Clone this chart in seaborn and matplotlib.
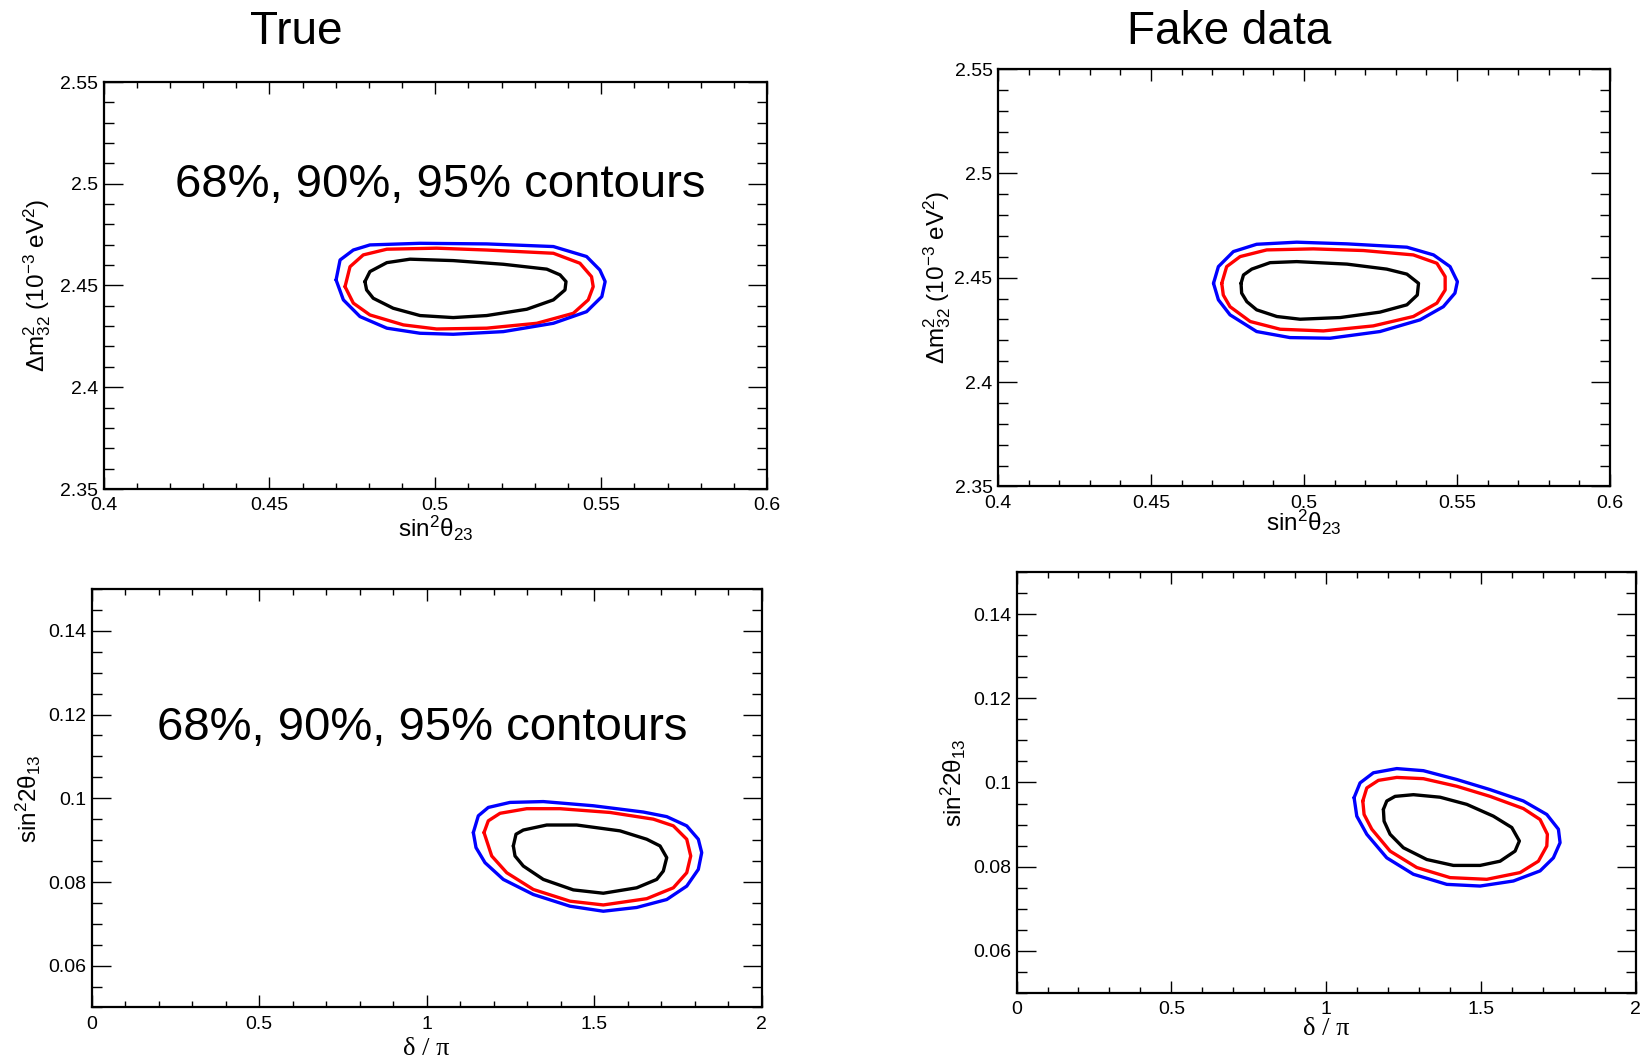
import matplotlib
matplotlib.use("Agg")
import matplotlib.pyplot as plt
from matplotlib.ticker import MultipleLocator
import pandas as pd
import seaborn as sns

# ---------------- contour vertices (68%, 90%, 95% C.L.) ----------------
# Top row, true oscillation parameters: sin^2(theta23) vs dm^2_32
tl_95_x = [0.4701, 0.4713, 0.4753, 0.4803, 0.4954, 0.5155, 0.5356, 0.5456, 0.5496, 0.5512,
           0.5502, 0.5456, 0.5356, 0.5205, 0.5054, 0.4954, 0.4854, 0.4773, 0.4723]
tl_95_y = [2.4527, 2.4625, 2.4674, 2.4699, 2.4707, 2.4704, 2.4691, 2.4642, 2.4576, 2.4519,
           2.4445, 2.4371, 2.4314, 2.4273, 2.4260, 2.4265, 2.4290, 2.4347, 2.4429]
tl_90_x = [0.4728, 0.4743, 0.4783, 0.4854, 0.5004, 0.5155, 0.5356, 0.5436, 0.5471, 0.5476,
           0.5461, 0.5416, 0.5306, 0.5155, 0.5004, 0.4904, 0.4803, 0.4753]
tl_90_y = [2.4494, 2.4592, 2.4650, 2.4678, 2.4683, 2.4674, 2.4658, 2.4609, 2.4543, 2.4494,
           2.4429, 2.4363, 2.4314, 2.4290, 2.4286, 2.4306, 2.4355, 2.4413]
tl_68_x = [0.4788, 0.4803, 0.4854, 0.4924, 0.5054, 0.5205, 0.5336, 0.5376, 0.5394, 0.5391,
           0.5356, 0.5276, 0.5155, 0.5054, 0.4954, 0.4873, 0.4813, 0.4793]
tl_68_y = [2.4519, 2.4568, 2.4612, 2.4629, 2.4622, 2.4604, 2.4580, 2.4552, 2.4519, 2.4478,
           2.4429, 2.4383, 2.4352, 2.4342, 2.4352, 2.4388, 2.4437, 2.4478]

# Top row, fake data fit
tr_95_x = [0.4704, 0.4720, 0.4769, 0.4845, 0.4976, 0.5140, 0.5336, 0.5423, 0.5477, 0.5501,
           0.5493, 0.5455, 0.5379, 0.5248, 0.5085, 0.4954, 0.4845, 0.4758, 0.4720]
tr_95_y = [2.4473, 2.4553, 2.4625, 2.4660, 2.4670, 2.4662, 2.4646, 2.4609, 2.4553, 2.4481,
           2.4426, 2.4361, 2.4298, 2.4242, 2.4210, 2.4213, 2.4242, 2.4322, 2.4394]
tr_90_x = [0.4731, 0.4747, 0.4791, 0.4878, 0.5030, 0.5194, 0.5357, 0.5434, 0.5461, 0.5461,
           0.5434, 0.5357, 0.5226, 0.5063, 0.4922, 0.4824, 0.4758, 0.4736]
tr_90_y = [2.4473, 2.4553, 2.4601, 2.4633, 2.4638, 2.4630, 2.4609, 2.4569, 2.4505, 2.4441,
           2.4378, 2.4314, 2.4269, 2.4245, 2.4253, 2.4290, 2.4361, 2.4417]
tr_68_x = [0.4794, 0.4802, 0.4829, 0.4889, 0.4976, 0.5140, 0.5270, 0.5336, 0.5374, 0.5370,
           0.5336, 0.5248, 0.5118, 0.4987, 0.4911, 0.4845, 0.4813, 0.4796]
tr_68_y = [2.4473, 2.4513, 2.4541, 2.4572, 2.4577, 2.4565, 2.4541, 2.4517, 2.4473, 2.4417,
           2.4370, 2.4335, 2.4309, 2.4301, 2.4314, 2.4346, 2.4385, 2.4426]

# Bottom row, true parameters: delta_CP / pi vs sin^2(2 theta13)
bl_95_x = [1.1397, 1.1546, 1.1844, 1.2492, 1.3486, 1.4979, 1.6471, 1.7170, 1.7767, 1.8113,
           1.8214, 1.8113, 1.7767, 1.7170, 1.6274, 1.5277, 1.4283, 1.3188, 1.2292, 1.1746, 1.1477]
bl_95_y = [0.0918, 0.0958, 0.0978, 0.0990, 0.0992, 0.0982, 0.0967, 0.0956, 0.0934, 0.0902,
           0.0870, 0.0830, 0.0790, 0.0758, 0.0739, 0.0730, 0.0742, 0.0770, 0.0806, 0.0846, 0.0882]
bl_90_x = [1.1716, 1.1844, 1.2194, 1.2991, 1.3985, 1.5477, 1.6770, 1.7367, 1.7767, 1.7886,
           1.7767, 1.7367, 1.6573, 1.5277, 1.4283, 1.3188, 1.2394, 1.1946]
bl_90_y = [0.0918, 0.0946, 0.0964, 0.0975, 0.0975, 0.0966, 0.0950, 0.0934, 0.0902, 0.0862,
           0.0822, 0.0786, 0.0760, 0.0745, 0.0754, 0.0782, 0.0822, 0.0862]
bl_68_x = [1.2591, 1.2671, 1.2889, 1.3588, 1.4483, 1.5776, 1.6573, 1.6970, 1.7170, 1.7068,
           1.6871, 1.6274, 1.5277, 1.4382, 1.3486, 1.2889, 1.2641]
bl_68_y = [0.0886, 0.0914, 0.0924, 0.0936, 0.0936, 0.0922, 0.0902, 0.0886, 0.0858, 0.0826,
           0.0806, 0.0786, 0.0773, 0.0781, 0.0806, 0.0838, 0.0862]

# Bottom row, fake data fit
br_95_x = [1.0905, 1.1098, 1.1528, 1.2284, 1.3144, 1.4223, 1.5299, 1.6375, 1.7131, 1.7506,
           1.7560, 1.7344, 1.6914, 1.6052, 1.4976, 1.3900, 1.2821, 1.1961, 1.1315, 1.0992]
br_95_y = [0.0964, 0.0999, 0.1023, 0.1033, 0.1028, 0.1007, 0.0983, 0.0956, 0.0924, 0.0889,
           0.0857, 0.0821, 0.0790, 0.0766, 0.0754, 0.0758, 0.0782, 0.0821, 0.0877, 0.0920]
br_90_x = [1.1186, 1.1315, 1.1690, 1.2284, 1.3144, 1.4223, 1.5299, 1.6375, 1.6914, 1.7150,
           1.7131, 1.6859, 1.6268, 1.5192, 1.4006, 1.2930, 1.2068, 1.1477, 1.1228]
br_90_y = [0.0956, 0.0987, 0.1005, 0.1012, 0.1009, 0.0991, 0.0967, 0.0938, 0.0912, 0.0877,
           0.0849, 0.0813, 0.0786, 0.0770, 0.0774, 0.0798, 0.0837, 0.0889, 0.0924]
br_68_x = [1.1851, 1.1961, 1.2229, 1.2821, 1.3683, 1.4546, 1.5405, 1.6000, 1.6245, 1.6106,
           1.5622, 1.4976, 1.4113, 1.3254, 1.2497, 1.2068, 1.1874]
br_68_y = [0.0936, 0.0956, 0.0967, 0.0971, 0.0965, 0.0948, 0.0920, 0.0893, 0.0861, 0.0837,
           0.0813, 0.0803, 0.0803, 0.0817, 0.0845, 0.0877, 0.0908]

# ---------------- axis ticks and labels ----------------
th23_ticks = [0.4, 0.45, 0.5, 0.55, 0.6]
th23_labels = ["0.4", "0.45", "0.5", "0.55", "0.6"]
dm32_ticks = [2.35, 2.4, 2.45, 2.5, 2.55]
dm32_labels = ["2.35", "2.4", "2.45", "2.5", "2.55"]
dcp_ticks = [0, 0.5, 1, 1.5, 2]
dcp_labels = ["0", "0.5", "1", "1.5", "2"]
th13_ticks = [0.06, 0.08, 0.1, 0.12, 0.14]
th13_labels = ["0.06", "0.08", "0.1", "0.12", "0.14"]

column_titles = ["True", "Fake data"]
cl_note = "68%, 90%, 95% contours"
levels = ["68%", "90%", "95%"]
level_colors = {"68%": "#000000", "90%": "#ff0000", "95%": "#0000ff"}

# ---------------- style ----------------
sns.set_style("white")
plt.rcParams["font.family"] = ["Liberation Sans", "DejaVu Sans"]
plt.rcParams["mathtext.fontset"] = "custom"
plt.rcParams["mathtext.rm"] = "Liberation Sans"
plt.rcParams["mathtext.it"] = "Liberation Sans:italic"
plt.rcParams["mathtext.bf"] = "Liberation Sans:bold"
plt.rcParams["axes.linewidth"] = 1.6
plt.rcParams["axes.edgecolor"] = "black"
plt.rcParams["text.color"] = "black"
plt.rcParams["axes.labelcolor"] = "black"
plt.rcParams["xtick.color"] = "black"
plt.rcParams["ytick.color"] = "black"
plt.rcParams["xtick.bottom"] = True
plt.rcParams["ytick.left"] = True

W, H = 1640, 1059
fig = plt.figure(figsize=(W / 100 + 1e-3, H / 100 + 1e-3), dpi=100)


def px_axes(left, top, right, bottom):
    return fig.add_axes([left / W, 1 - bottom / H, (right - left) / W, (bottom - top) / H])


def contour_frame(xs, ys):
    rows = []
    for lev, x, y in zip(levels, xs, ys):
        x = list(x) + [x[0]]
        y = list(y) + [y[0]]
        for i, (a, b) in enumerate(zip(x, y)):
            rows.append({"x": a, "y": b, "level": lev, "step": i})
    return pd.DataFrame(rows)


def draw_panel(ax, xs, ys, xlim, ylim, xt, xl, yt, yl, xmin, ymin):
    df = contour_frame(xs, ys)
    sns.lineplot(data=df, x="x", y="y", hue="level", palette=level_colors,
                 sort=False, estimator=None, linewidth=2.4, legend=False, ax=ax)
    ax.set_xlim(*xlim)
    ax.set_ylim(*ylim)
    ax.set_xticks(xt, xl)
    ax.set_yticks(yt, yl)
    ax.xaxis.set_minor_locator(MultipleLocator(xmin))
    ax.yaxis.set_minor_locator(MultipleLocator(ymin))
    ax.xaxis.set_ticks_position("both")
    ax.yaxis.set_ticks_position("both")
    ax.tick_params(axis="both", which="both", direction="in",
                   bottom=True, left=True, top=True, right=True,
                   labelbottom=True, labelleft=True, labeltop=False, labelright=False,
                   colors="black", labelcolor="black", labelsize=14, width=1.0)
    ax.tick_params(axis="x", which="major", length=8.6, pad=6)
    ax.tick_params(axis="x", which="minor", length=4.5)
    ax.tick_params(axis="y", which="major", length=13.5, pad=4)
    ax.tick_params(axis="y", which="minor", length=7)
    for s in ax.spines.values():
        s.set_visible(True)
        s.set_linewidth(1.6)
        s.set_color("black")


# top-left: true, theta23 / dm32
ax1 = px_axes(103.5, 82, 767, 489)
draw_panel(ax1, [tl_68_x, tl_90_x, tl_95_x], [tl_68_y, tl_90_y, tl_95_y],
           (0.4, 0.6), (2.35, 2.55), th23_ticks, th23_labels, dm32_ticks, dm32_labels, 0.01, 0.01)
ax1.set_xlabel("sin$^{2}$θ$_{23}$", fontsize=17.5)
ax1.xaxis.set_label_coords(0.5, -0.062)
ax1.set_ylabel("Δm$^{2}_{32}$ (10$^{-3}$ eV$^{2}$)", fontsize=17.5)
ax1.yaxis.set_label_coords(-0.076, 0.5)
ax1.text(0.507, 0.717, cl_note, transform=ax1.transAxes, ha="center", va="baseline", fontsize=34)

# top-right: fake data, theta23 / dm32
ax2 = px_axes(998, 69, 1610, 486.5)
draw_panel(ax2, [tr_68_x, tr_90_x, tr_95_x], [tr_68_y, tr_90_y, tr_95_y],
           (0.4, 0.6), (2.35, 2.55), th23_ticks, th23_labels, dm32_ticks, dm32_labels, 0.01, 0.01)
ax2.set_xlabel("sin$^{2}$θ$_{23}$", fontsize=17.5)
ax2.xaxis.set_label_coords(0.5, -0.05)
ax2.set_ylabel("Δm$^{2}_{32}$ (10$^{-3}$ eV$^{2}$)", fontsize=17.5)
ax2.yaxis.set_label_coords(-0.0735, 0.5)

# bottom-left: true, delta_CP / theta13
ax3 = px_axes(91.5, 589, 761.5, 1007.5)
draw_panel(ax3, [bl_68_x, bl_90_x, bl_95_x], [bl_68_y, bl_90_y, bl_95_y],
           (0, 2), (0.05, 0.15), dcp_ticks, dcp_labels, th13_ticks, th13_labels, 0.1, 0.005)
ax3.set_xlabel("δ / π", fontsize=19, fontfamily="Liberation Serif")
ax3.xaxis.set_label_coords(0.5, -0.072)
ax3.set_ylabel("sin$^{2}$2θ$_{13}$", fontsize=17.5)
ax3.yaxis.set_label_coords(-0.072, 0.5)
ax3.text(0.493, 0.640, cl_note, transform=ax3.transAxes, ha="center", va="baseline", fontsize=34)

# bottom-right: fake data, delta_CP / theta13
ax4 = px_axes(1016.5, 572, 1635.5, 993)
draw_panel(ax4, [br_68_x, br_90_x, br_95_x], [br_68_y, br_90_y, br_95_y],
           (0, 2), (0.05, 0.15), dcp_ticks, dcp_labels, th13_ticks, th13_labels, 0.1, 0.005)
ax4.set_xlabel("δ / π", fontsize=19, fontfamily="Liberation Serif")
ax4.xaxis.set_label_coords(0.5, -0.059)
ax4.set_ylabel("sin$^{2}$2θ$_{13}$", fontsize=17.5)
ax4.yaxis.set_label_coords(-0.078, 0.5)

# column headings
fig.text(296 / W, 1 - 43.5 / H, column_titles[0], ha="center", va="baseline", fontsize=33)
fig.text(1229 / W, 1 - 43.5 / H, column_titles[1], ha="center", va="baseline", fontsize=33)

fig.savefig("out.png", dpi=100, facecolor="white")
